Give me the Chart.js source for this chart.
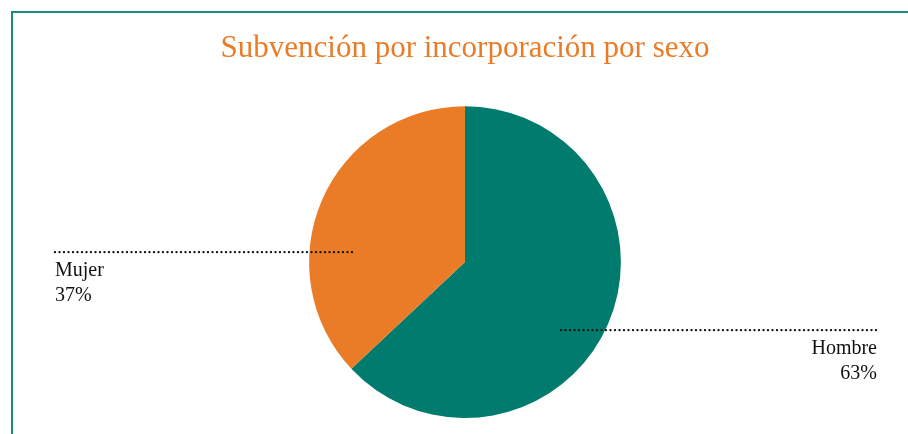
<!DOCTYPE html>
<html>
<head>
<meta charset="utf-8">
<script src="https://cdn.jsdelivr.net/npm/chart.js@4/dist/chart.umd.min.js"></script>
<style>
  html, body { margin: 0; padding: 0; background: #fff; }
  #wrap { width: 908px; height: 434px; position: relative; }
</style>
</head>
<body>
<div id="wrap"><canvas id="container"></canvas></div>
<script>
const categories = ["Hombre", "Mujer"];
const values = [63, 37];
const colors = ['#007B6E', '#EA7C28'];
const title = "Subvención por incorporación por sexo";

// marco verde (arriba e izquierda) y etiquetas con línea punteada
const decor = {
    id: 'decor',
    beforeDraw(chart) {
        const c = chart.ctx;
        c.save();
        c.strokeStyle = '#1C8C7E';
        c.lineWidth = 2;
        c.beginPath();
        c.moveTo(12, 434);
        c.lineTo(12, 12);
        c.lineTo(908, 12);
        c.stroke();
        c.restore();
    },
    afterDraw(chart) {
        const c = chart.ctx;
        const arc = chart.getDatasetMeta(0).data[0];
        const cx = arc.x, cy = arc.y;
        const labels = [
            // Hombre: a la derecha, texto alineado a la derecha
            { i: 0, x1: cx + 96, x2: cx + 412, y: cy + 68, tx: cx + 412, align: 'right' },
            // Mujer: a la izquierda
            { i: 1, x1: cx - 410, x2: cx - 111, y: cy - 10, tx: cx - 410, align: 'left' }
        ];
        c.save();
        labels.forEach(l => {
            c.strokeStyle = '#111';
            c.lineWidth = 2.4;
            c.lineCap = 'round';
            c.setLineDash([0, 4.5]);
            c.beginPath();
            c.moveTo(l.x1, l.y);
            c.lineTo(l.x2, l.y);
            c.stroke();
            c.setLineDash([]);
            c.fillStyle = '#111';
            c.font = '20px "Liberation Serif", serif';
            c.textAlign = l.align;
            c.textBaseline = 'alphabetic';
            c.fillText(categories[l.i], l.tx, l.y + 24);
            c.fillText(values[l.i] + '%', l.tx, l.y + 49);
        });
        c.restore();
    }
};

const ctx = document.getElementById('container').getContext('2d');
const chart = new Chart(ctx, {
    type: 'pie',
    data: {
        labels: categories,
        datasets: [{
            data: values,
            backgroundColor: colors,
            borderWidth: 0
        }]
    },
    options: {
        responsive: true,
        maintainAspectRatio: false,
        animation: false,
        layout: {
            padding: { left: 22, right: 0, top: 0, bottom: 16 }
        },
        plugins: {
            legend: { display: false },
            tooltip: { enabled: false },
            title: {
                display: true,
                text: title,
                color: '#EA7C28',
                font: { family: '"Liberation Serif", serif', size: 31, weight: 'normal' },
                padding: { top: 30, bottom: 39 }
            }
        }
    },
    plugins: [decor]
});
</script>
</body>
</html>
